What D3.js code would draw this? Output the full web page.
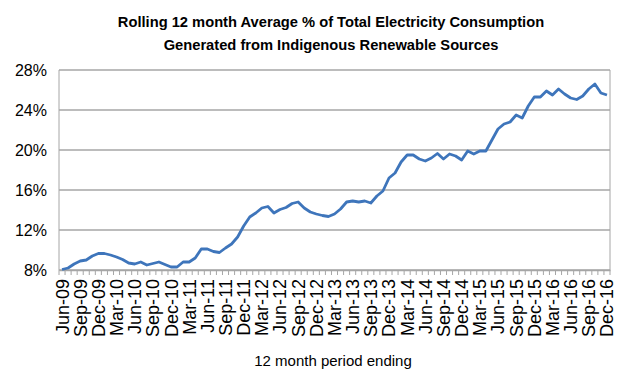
<!DOCTYPE html>
<html>
<head>
<meta charset="utf-8">
<script src="https://cdn.jsdelivr.net/npm/d3@7"></script>
<style>
  body { margin: 0; background: #fff; }
  text { font-family: "Liberation Sans", Arial, sans-serif; fill: #000; }
</style>
</head>
<body>
<div id="chart"></div>
<script>
// rolling 12 month % share, Jun-09 .. Dec-16
var months = [];
var monthNames = ["Jan","Feb","Mar","Apr","May","Jun","Jul","Aug","Sep","Oct","Nov","Dec"];
for (var yr = 2009; yr <= 2016; yr++) {
	for (var m = 0; m < 12; m++) {
		if (yr == 2009 && m < 5) continue;
		months.push(monthNames[m] + "-" + String(yr).slice(2));
	}
}

var values = [
	8.05, 8.2, 8.6, 8.9, 9.0, 9.4, 9.65,            // Jun-09 .. Dec-09
	9.65, 9.5, 9.3, 9.05, 8.7, 8.6, 8.8, 8.5, 8.65, 8.8, 8.55, 8.3,   // 2010
	8.3, 8.8, 8.8, 9.2, 10.1, 10.1, 9.85, 9.75, 10.2, 10.6, 11.3, 12.4, // 2011
	13.3, 13.7, 14.2, 14.35, 13.7, 14.05, 14.25, 14.65, 14.8, 14.2, 13.8, 13.6, // 2012
	13.45, 13.35, 13.6, 14.1, 14.8, 14.9, 14.8, 14.9, 14.7, 15.4, 15.9, 17.2, // 2013
	17.7, 18.8, 19.5, 19.5, 19.1, 18.9, 19.2, 19.65, 19.1, 19.6, 19.4, 19.0, // 2014
	19.9, 19.6, 19.9, 19.9, 21.0, 22.1, 22.6, 22.8, 23.5, 23.2, 24.4, 25.3, // 2015
	25.3, 25.9, 25.5, 26.1, 25.6, 25.2, 25.05, 25.4, 26.1, 26.6, 25.7, 25.5  // 2016
];

var yTicks = [8, 12, 16, 20, 24, 28];
var titleLines = ["Rolling 12 month Average % of Total Electricity Consumption",
	"Generated from Indigenous Renewable Sources"];
var xTitle = "12 month period ending";

var width = 620, height = 379;
var plotLeft = 59, plotRight = 610, plotTop = 70, plotBottom = 270;

var svg = d3.select("#chart").append("svg")
	.attr("width", width)
	.attr("height", height);

var x = d3.scaleBand().domain(months).range([plotLeft, plotRight]);
var yScale = d3.scaleLinear().domain([8, 28]).range([plotBottom, plotTop]);

// gridlines
svg.selectAll(".grid")
	.data(yTicks)
	.enter().append("line")
	.attr("x1", plotLeft).attr("x2", plotRight)
	.attr("y1", function(d) { return yScale(d); })
	.attr("y2", function(d) { return yScale(d); })
	.style("stroke", "#a6a6a6")
	.style("stroke-width", 1.3);

// plot border (left + right)
svg.append("line").attr("x1", plotLeft).attr("x2", plotLeft).attr("y1", plotTop).attr("y2", plotBottom)
	.style("stroke", "#a6a6a6").style("stroke-width", 1);
svg.append("line").attr("x1", plotRight).attr("x2", plotRight).attr("y1", plotTop).attr("y2", plotBottom)
	.style("stroke", "#a6a6a6").style("stroke-width", 1);

// y labels
svg.selectAll(".ylab")
	.data(yTicks)
	.enter().append("text")
	.attr("x", 47)
	.attr("y", function(d) { return yScale(d) + 6; })
	.attr("text-anchor", "end")
	.style("font-size", "16px")
	.text(function(d) { return d + "%"; });

// x axis
var xAxis = d3.axisBottom(x)
	.tickSize(0)
	.tickFormat(function(d, i) { return i % 3 == 0 ? d : ""; });
var gx = svg.append("g")
	.attr("transform", "translate(0," + plotBottom + ")")
	.call(xAxis);
gx.select(".domain").style("stroke", "#a6a6a6").style("stroke-width", 1.3);
gx.selectAll("text")
	.attr("transform", "rotate(-90)")
	.attr("x", -9)
	.attr("y", 0)
	.attr("dy", "0.36em")
	.style("text-anchor", "end")
	.style("font-size", "18px")
	.style("font-family", "Liberation Sans, Arial, sans-serif");

// tick marks between categories
var tickPos = months.map(function(d) { return x(d); }).concat([plotRight]);
svg.selectAll(".tk")
	.data(tickPos)
	.enter().append("line")
	.attr("x1", function(d) { return d; })
	.attr("x2", function(d) { return d; })
	.attr("y1", plotBottom)
	.attr("y2", plotBottom + 5)
	.style("stroke", "#a6a6a6");

// the line
var line = d3.line()
	.x(function(d, i) { return x(months[i]) + x.bandwidth() / 2; })
	.y(function(d) { return yScale(d); });

svg.append("path")
	.datum(values)
	.attr("d", line)
	.style("fill", "none")
	.style("stroke", "#3e75bb")
	.style("stroke-width", 2.8)
	.style("stroke-linejoin", "round");

// titles
svg.selectAll(".title")
	.data(titleLines)
	.enter().append("text")
	.attr("x", 331)
	.attr("y", function(d, i) { return 27 + i * 23; })
	.attr("text-anchor", "middle")
	.style("font-size", "14.7px")
	.style("font-weight", "bold")
	.text(function(d) { return d; });

svg.append("text")
	.attr("x", 333)
	.attr("y", 366)
	.attr("text-anchor", "middle")
	.style("font-size", "15px")
	.text(xTitle);
</script>
</body>
</html>
